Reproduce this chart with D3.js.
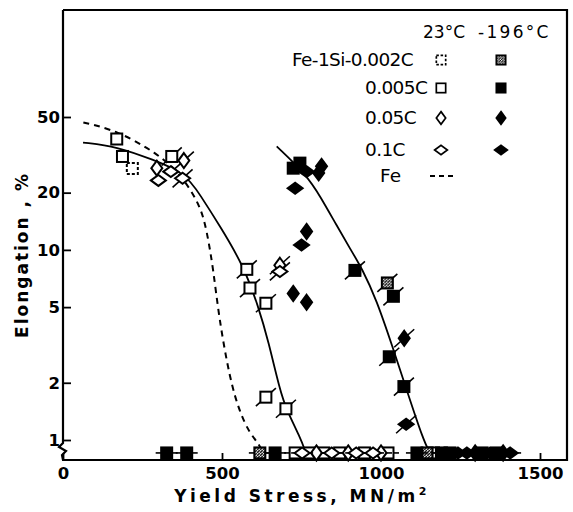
<!DOCTYPE html>
<html>
<head>
<meta charset="utf-8">
<script src="https://cdn.jsdelivr.net/npm/d3@7"></script>
<style>
  body { margin: 0; background: #fff; }
  text { font-family: "DejaVu Sans", sans-serif; fill: #000; }
</style>
</head>
<body>
<div id="chart"></div>
<script>
// stress (MN/m^2), elongation (%), slash flag ; elongation 0 = plotted on the broken "0" row
const si002_23  = [[218, 26.8, 0]];
const si005_23  = [[169, 38.3, 0], [187, 31, 0], [342, 31, 1], [578, 7.9, 1], [588, 6.3, 1], [638, 5.24, 1],
                   [638, 1.68, 1], [701, 1.46, 1], [730, 0, 0], [775, 0, 0], [820, 0, 0], [870, 0, 0],
                   [948, 0, 0], [1022, 0, 0], [1165, 0, 0]];
const si05_23   = [[295, 26.9, 0], [380, 29.5, 1], [682, 8.3, 1], [797, 0, 0], [897, 0, 0], [1000, 0, 0]];
const si1_23    = [[300, 23.2, 0], [339, 25.8, 0], [376, 23.8, 1], [682, 7.7, 1], [752, 0, 0], [845, 0, 0],
                   [922, 0, 0], [975, 0, 0]];
const si002_196 = [[1020, 6.7, 1], [619, 0, 0], [1145, 0, 0]];
const si005_196 = [[724, 26.9, 0], [745, 28.6, 0], [918, 7.8, 1], [1039, 5.7, 1], [1026, 2.74, 1], [1072, 1.91, 1],
                   [326, 0, 0], [389, 0, 0], [667, 0, 0], [1113, 0, 0], [1190, 0, 0], [1217, 0, 0],
                   [1318, 0, 0], [1365, 0, 0]];
const si05_196  = [[813, 27.5, 0], [804, 25.4, 0], [766, 12.5, 0], [724, 5.9, 0], [766, 5.3, 0], [1073, 3.43, 1],
                   [1296, 0, 0], [1384, 0, 0]];
const si1_196   = [[766, 25.8, 0], [730, 21.1, 0], [750, 10.6, 0], [1079, 1.21, 1], [1242, 0, 0], [1270, 0, 0],
                   [1343, 0, 0], [1406, 0, 0]];

// fitted curves
const curve23  = [[63, 36.7], [169, 35], [283, 29.8], [384, 25.4], [431, 19.5], [494, 13.3], [567, 8.3],
                  [615, 5.0], [646, 3.3], [682, 1.83], [703, 1.44], [745, 1.04], [764, 0]];
const curve196 = [[672, 35], [766, 24.8], [810, 19], [860, 13.5], [905, 10], [940, 8], [986, 5.46],
                  [1036, 3.1], [1081, 1.83], [1133, 1], [1154, 0]];
const curveFe  = [[64, 46.8], [169, 42.5], [295, 32.3], [368, 25.3], [431, 17.3], [452, 12.7], [473, 7.85],
                  [490, 4.46], [525, 2.07], [557, 1.38], [588, 1.08], [619, 0.94], [628, 0]];

const xTicks = [0, 500, 1000, 1500];
const yTicks = [1, 2, 5, 10, 20, 50];

const legendRows = [
  { label: "Fe-1Si-0.002C", open: "dsq", filled: "hsq" },
  { label: "0.005C", open: "sq", filled: "sqf" },
  { label: "0.05C", open: "dt", filled: "dtf" },
  { label: "0.1C", open: "dw", filled: "dwf" }
];

const W = 573, H = 512;
const margin = { top: 10, right: 6, bottom: 52, left: 63 };
const zeroRow = 0.855; // where the "0" row sits below the axis break

const svg = d3.select("#chart").append("svg")
    .attr("width", W).attr("height", H);

const defs = svg.append("defs");
const hatch = defs.append("pattern")
    .attr("id", "hatch").attr("patternUnits", "userSpaceOnUse")
    .attr("width", 3).attr("height", 3);
hatch.append("rect").attr("width", 3).attr("height", 3).attr("fill", "#fff");
hatch.append("path").attr("d", "M0,3 L3,0").attr("stroke", "#000").attr("stroke-width", 1.4);

const x = d3.scaleLinear().domain([0, 1500]).range([63, 540]);
const y = d3.scaleLog().domain([1, 50]).range([440, 117]);
const yPos = v => v > 0 ? y(v) : y(zeroRow);

const fLeft = margin.left, fRight = W - margin.right;
const fTop = margin.top, fBottom = H - margin.bottom;

// --- frame with axis break ---
svg.append("path")
    .attr("d", `M${fLeft},${fTop} V${fBottom - 17} L${fLeft - 4},${fBottom - 13} L${fLeft + 3},${fBottom - 9} L${fLeft - 1},${fBottom - 5} L${fLeft},${fBottom} H${fRight} V${fTop} H${fLeft}`)
    .attr("fill", "none").attr("stroke", "#000").attr("stroke-width", 2.2);

// --- axes ---
const yAxis = svg.append("g")
    .attr("transform", `translate(${fLeft},0)`)
    .call(d3.axisLeft(y).tickValues(yTicks).tickFormat(d3.format("d")).tickSize(-8).tickPadding(3));
yAxis.select(".domain").remove();
yAxis.selectAll("line").attr("stroke-width", 1.8);
yAxis.selectAll("text").style("font-size", "16.5px").style("font-family", "DejaVu Sans").style("font-weight", "bold");

const xAxis = svg.append("g")
    .attr("transform", `translate(0,${fBottom})`)
    .call(d3.axisBottom(x).tickValues(xTicks).tickFormat(d3.format("d")).tickSize(-7).tickPadding(7));
xAxis.select(".domain").remove();
xAxis.selectAll("line").attr("stroke-width", 1.8);
xAxis.selectAll("text").style("font-size", "16.5px").style("font-family", "DejaVu Sans").style("font-weight", "bold");

// axis titles
const xt = svg.append("text")
    .attr("x", 302).attr("y", 502)
    .attr("text-anchor", "middle")
    .style("font-size", "17px").style("font-weight", "bold").style("letter-spacing", "3.5px");
xt.append("tspan").text("Yield Stress,  MN/m");
xt.append("tspan").attr("dy", -7).style("font-size", "11px").text("2");

svg.append("text")
    .attr("transform", "translate(28,255) rotate(-90)")
    .attr("text-anchor", "middle")
    .style("font-size", "17px").style("font-weight", "bold").style("letter-spacing", "2px")
    .text("Elongation , %");

// --- curves ---
const line = d3.line()
    .x(d => x(d[0]))
    .y(d => yPos(d[1]))
    .curve(d3.curveBasis);

svg.append("path").datum(curve23).attr("d", line)
    .attr("fill", "none").attr("stroke", "#000").attr("stroke-width", 1.8);
svg.append("path").datum(curve196).attr("d", line)
    .attr("fill", "none").attr("stroke", "#000").attr("stroke-width", 1.8);
svg.append("path").datum(curveFe).attr("d", line)
    .attr("fill", "none").attr("stroke", "#000").attr("stroke-width", 2)
    .attr("stroke-dasharray", "6,5");

// --- markers ---
function drawMarker(g, type, cx, cy) {
    const m = g.append("g").attr("transform", `translate(${cx},${cy})`);
    const filled = type.endsWith("f") || type === "hsq";
    const fill = type === "hsq" ? "url(#hatch)" : (filled ? "#000" : "#fff");
    let shape;
    if (type === "dsq" || type === "hsq" || type === "sq" || type === "sqf") {
        shape = m.append("rect").attr("x", -5.5).attr("y", -5.5).attr("width", 11).attr("height", 11);
    } else if (type === "dt" || type === "dtf") {
        shape = m.append("path").attr("d", "M0,-7.5 L5.5,0 L0,7.5 L-5.5,0 Z");
    } else {
        shape = m.append("path").attr("d", "M-7.5,0 L0,-5.5 L7.5,0 L0,5.5 Z");
    }
    shape.attr("fill", fill).attr("stroke", "#000").attr("stroke-width", 2);
    if (type === "dsq") shape.attr("stroke-dasharray", "3,2");
    return m;
}

const groups = [
    [si002_23, "dsq"], [si005_23, "sq"], [si05_23, "dt"], [si1_23, "dw"],
    [si002_196, "hsq"], [si005_196, "sqf"], [si05_196, "dtf"], [si1_196, "dwf"]
];

const marks = svg.append("g");
groups.forEach(([data, type]) => {
    data.forEach(d => {
        const cx = x(d[0]), cy = yPos(d[1]);
        if (d[2]) {
            marks.append("line")
                .attr("x1", cx - 10).attr("y1", cy + 9).attr("x2", cx + 10).attr("y2", cy - 9)
                .attr("stroke", "#000").attr("stroke-width", 1.6);
        }
        if (d[1] === 0) {
            marks.append("line")
                .attr("x1", cx - 11).attr("x2", cx + 11).attr("y1", cy).attr("y2", cy)
                .attr("stroke", "#000").attr("stroke-width", 1.6);
        }
        drawMarker(marks, type, cx, cy);
    });
});

// --- legend ---
const legend = svg.append("g");
legend.append("text").attr("x", 423).attr("y", 38).style("font-size", "17px").text("23°C");
legend.append("text").attr("x", 478).attr("y", 38).style("font-size", "17px").style("letter-spacing", "2.3px").text("-196°C");

const rowY = [60, 88, 118, 150];
const textX = [292, 365, 365, 365];
legendRows.forEach((r, i) => {
    legend.append("text")
        .attr("x", textX[i]).attr("y", rowY[i] + 6)
        .style("font-size", "18.5px").style("letter-spacing", "-0.6px")
        .text(r.label);
    drawMarker(legend, r.open, 441, rowY[i]).attr("transform", `translate(441,${rowY[i]}) scale(0.85)`);
    drawMarker(legend, r.filled, 501, rowY[i]).attr("transform", `translate(501,${rowY[i]}) scale(0.85)`);
});
legend.append("text").attr("x", 380).attr("y", 182).style("font-size", "18.5px").text("Fe");
legend.append("line")
    .attr("x1", 430).attr("x2", 456).attr("y1", 176).attr("y2", 176)
    .attr("stroke", "#000").attr("stroke-width", 1.8).attr("stroke-dasharray", "5,4");
</script>
</body>
</html>
